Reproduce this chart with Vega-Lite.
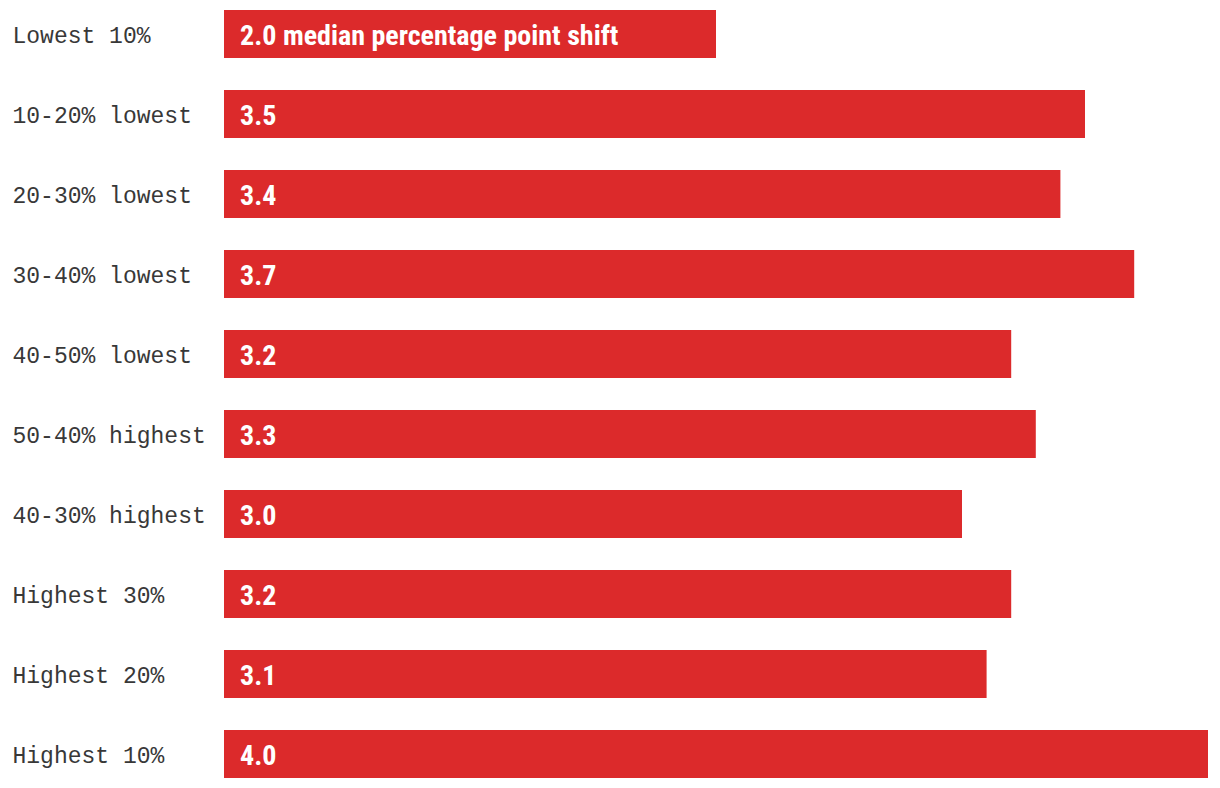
{
  "$schema": "https://vega.github.io/schema/vega-lite/v6.json",
  "width": 984,
  "height": 788,
  "autosize": {"type": "none"},
  "padding": {"left": 224, "top": 0, "right": 12, "bottom": 0},
  "background": "white",
  "config": {"view": {"stroke": null}},
  "data": {
    "values": [
      {"group": "Lowest 10%", "shift": 2.0, "label": "2.0 median percentage point shift"},
      {"group": "10-20% lowest", "shift": 3.5, "label": "3.5"},
      {"group": "20-30% lowest", "shift": 3.4, "label": "3.4"},
      {"group": "30-40% lowest", "shift": 3.7, "label": "3.7"},
      {"group": "40-50% lowest", "shift": 3.2, "label": "3.2"},
      {"group": "50-40% highest", "shift": 3.3, "label": "3.3"},
      {"group": "40-30% highest", "shift": 3.0, "label": "3.0"},
      {"group": "Highest 30%", "shift": 3.2, "label": "3.2"},
      {"group": "Highest 20%", "shift": 3.1, "label": "3.1"},
      {"group": "Highest 10%", "shift": 4.0, "label": "4.0"}
    ]
  },
  "encoding": {
    "y": {
      "field": "group",
      "type": "nominal",
      "sort": null,
      "scale": {"paddingInner": 0.4, "paddingOuter": 0.125},
      "axis": {
        "title": null,
        "domain": false,
        "ticks": false,
        "tickSize": 0,
        "labelAlign": "left",
        "labelPadding": 212,
        "labelLimit": 400,
        "labelFont": "Liberation Mono",
        "labelFontSize": 23,
        "labelColor": "#383838",
        "labelBaseline": "middle",
        "labelOffset": 2
      }
    }
  },
  "layer": [
    {
      "mark": {"type": "bar", "color": "#dc2a2b"},
      "encoding": {
        "x": {
          "field": "shift",
          "type": "quantitative",
          "scale": {"domain": [0, 4], "nice": false},
          "axis": null
        }
      }
    },
    {
      "mark": {
        "type": "text",
        "align": "left",
        "baseline": "middle",
        "dx": 16,
        "dy": 3,
        "font": "Liberation Sans Narrow, Roboto Condensed, Roboto",
        "fontWeight": "bold",
        "fontSize": 28,
        "color": "white"
      },
      "encoding": {
        "x": {"datum": 0, "type": "quantitative"},
        "text": {"field": "label"}
      }
    }
  ]
}
